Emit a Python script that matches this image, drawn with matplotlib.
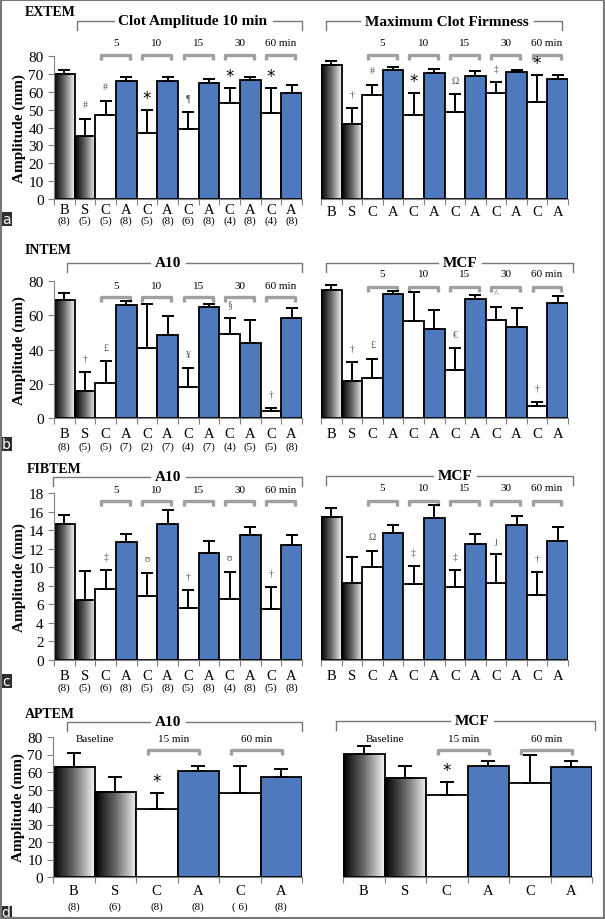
import numpy as np
import matplotlib
matplotlib.use('Agg')
import matplotlib.pyplot as plt
from matplotlib.colors import LinearSegmentedColormap
from matplotlib.transforms import blended_transform_factory
from matplotlib.patches import Rectangle

plt.rcParams['font.family'] = ['Liberation Serif', 'DejaVu Serif']

W, H = 605, 920

# ---- data ----
groups = ['B', 'S', 'C', 'A', 'C', 'A', 'C', 'A', 'C', 'A', 'C', 'A']
groups_d = ['B', 'S', 'C', 'A', 'C', 'A']
times = ['5', '10', '15', '30', '60 min']

# EXTEM
extem_a10 = [70, 35, 47, 65.8, 37, 66, 39, 64.8, 53.8, 66.5, 48, 59.5]
extem_a10_err = [72, 45, 55, 68, 50, 68.5, 48.5, 67, 62, 68, 62, 63.5]
extem_n = ['(8)', '(5)', '(5)', '(8)', '(5)', '(8)', '(6)', '(8)', '(4)', '(8)', '(4)', '(8)']
extem_a10_sig = ['', '#', '#', '', '*', '', '¶', '', '*', '', '*', '']
extem_mcf = [75, 42, 58, 72, 47, 70.5, 48.5, 69, 59.5, 71, 54.5, 67]
extem_mcf_err = [77, 51, 64, 73.7, 59.5, 72.5, 58.5, 71.4, 65.3, 72.3, 69.5, 69.5]
extem_mcf_sig = ['', '†', '#', '', '*', '', 'Ω', '', '‡', '', '*', '']

# INTEM
intem_a10 = [69, 16, 20.5, 66, 41, 48.5, 18, 65, 49, 43.7, 4, 58.2]
intem_a10_err = [73, 27, 33, 68.5, 66.7, 59.8, 29, 66.7, 58.6, 57.3, 5.6, 64.2]
intem_n = ['(8)', '(5)', '(5)', '(7)', '(2)', '(7)', '(4)', '(7)', '(4)', '(5)', '(5)', '(8)']
intem_a10_sig = ['', '†', '£', '', '', '', '¥', '', '§', '', '†', '']
intem_mcf = [74.5, 21.4, 23.3, 72.2, 56.4, 52, 27.8, 69.6, 57.2, 53, 7, 67]
intem_mcf_err = [77.8, 32.5, 34.6, 74.3, 73.7, 63.2, 40.7, 72, 64.6, 64.4, 9.3, 71.4]
intem_mcf_sig = ['', '†', '£', '', '', '', '€', '', '^', '', '†', '']

# FIBTEM
fibtem_a10 = [14.7, 6.45, 7.7, 12.7, 6.9, 14.7, 5.65, 11.55, 6.55, 13.45, 5.5, 12.4]
fibtem_a10_err = [15.6, 9.6, 9.65, 13.6, 9.4, 16.2, 7.55, 12.85, 9.5, 14.3, 7.85, 13.5]
fibtem_n = ['(8)', '(5)', '(6)', '(8)', '(5)', '(8)', '(5)', '(8)', '(4)', '(8)', '(5)', '(8)']
fibtem_a10_sig = ['', '', '‡', '', 'ʊ', '', '†', '', 'ʊ', '', '†', '']
fibtem_mcf = [15.45, 8.25, 10.05, 13.7, 8.2, 15.3, 7.85, 12.45, 8.35, 14.55, 7.05, 12.8]
fibtem_mcf_err = [16.35, 11.05, 11.8, 14.6, 10.1, 16.7, 9.75, 13.6, 11.4, 15.5, 9.45, 14.35]
fibtem_mcf_sig = ['', '', 'Ω', '', '‡', '', '‡', '', 'ȷ', '', '†', '']

# APTEM
aptem_a10 = [63, 48.8, 39, 60.8, 48, 57]
aptem_a10_err = [71, 57.2, 47.8, 63.3, 63.2, 61.8]
aptem_n = ['(8)', '(6)', '(8)', '(8)', '( 6)', '(8)']
aptem_a10_sig = ['', '', '*', '', '', '']
aptem_mcf = [70.2, 56.8, 46.9, 63.7, 54, 63]
aptem_mcf_err = [74.8, 63.5, 54.4, 66.4, 69.5, 66.2]
aptem_mcf_sig = ['', '', '*', '', '', '']

BLUE = '#4e79bd'
GREY = '#808080'
grad = LinearSegmentedColormap.from_list('bw', ['#000000', '#6a6a6a', '#f4f4f4'])

fig = plt.figure(figsize=(W / 100, H / 100), dpi=100)
over = fig.add_axes([0, 0, 1, 1], zorder=5)
over.set_xlim(0, W)
over.set_ylim(H, 0)
over.axis('off')
renderer = fig.canvas.get_renderer()


def px_axes(x0, x1, ytop, ybot):
    return fig.add_axes([x0 / W, 1 - ybot / H, (x1 - x0) / W, (ybot - ytop) / H])


def draw_bars(ax, vals, errs, sigs, ymax, step, left, cap):
    n = len(vals)
    x = np.arange(n)
    for i in x:
        if i < 2:
            g = np.linspace(0, 1, 80).reshape(1, -1)
            ax.imshow(g, extent=(i - 0.5, i + 0.5, 0, vals[i]), aspect='auto',
                      cmap=grad, vmin=0, vmax=1, zorder=1)
            ax.bar(i, vals[i], 1, facecolor='none', edgecolor='black', lw=1.3, zorder=2)
        else:
            fc = 'white' if i % 2 == 0 else BLUE
            ax.bar(i, vals[i], 1, facecolor=fc, edgecolor='black', lw=1.3, zorder=2)
    up = np.array(errs) - np.array(vals)
    ax.errorbar(x, vals, yerr=[np.zeros(n), up], fmt='none', ecolor='black',
                elinewidth=1.4, capsize=cap, capthick=1.4, zorder=3)
    for i, s in enumerate(sigs):
        if not s:
            continue
        if s == '*':
            ax.annotate(s, (i, errs[i]), xytext=(0, 12), textcoords='offset pixels',
                        ha='center', va='center', fontsize=12, color='black',
                        family=['DejaVu Sans'], annotation_clip=False)
        else:
            ax.annotate(s, (i, errs[i]), xytext=(0, 14), textcoords='offset pixels',
                        ha='center', va='center', fontsize=7, color='#555555',
                        annotation_clip=False)
    ax.set_xlim(-0.5, n - 0.5)
    ax.set_ylim(0, ymax)
    ax.set_xticks(np.arange(n + 1) - 0.5)
    ax.set_xticklabels([])
    ax.tick_params(axis='x', direction='out', length=4, color=GREY)
    for sp in ['top', 'right']:
        ax.spines[sp].set_visible(False)
    ax.spines['bottom'].set_color(GREY)
    ax.patch.set_alpha(0)
    if left:
        ax.set_yticks(np.arange(0, ymax + step / 2, step))
        ax.tick_params(axis='y', direction='out', length=4, color=GREY, labelsize=11)
        ax.spines['left'].set_color(GREY)
        ax.set_ylabel('Amplitude (mm)', fontsize=11, fontweight='bold', labelpad=2)
    else:
        ax.spines['left'].set_visible(False)
        ax.set_yticks([])


def xlabels(ax, names, counts, dy1, dy2):
    for i, nm in enumerate(names):
        ax.annotate(nm, (i, 0), xycoords=('data', 'axes fraction'), xytext=(0, -dy1),
                    textcoords='offset pixels', ha='center', va='center', fontsize=10.5)
        if counts:
            ax.annotate(counts[i], (i, 0), xycoords=('data', 'axes fraction'),
                        xytext=(0, -dy2), textcoords='offset pixels',
                        ha='center', va='center', fontsize=8)


def big_bracket(x0, x1, y, label, tx, fs=11):
    t = over.text(tx, y, label, ha='center', va='center', fontsize=fs, fontweight='bold')
    hw = t.get_window_extent(renderer=renderer).width / 2 + 5
    over.plot([x0, x0, tx - hw], [y + 9, y, y], color='#777777', lw=1)
    over.plot([tx + hw, x1, x1], [y, y, y + 9], color='#777777', lw=1)


def sub_bracket(ax, i, y, ly, label, lo, hi):
    tr = blended_transform_factory(ax.transData, over.transData)
    a, b = i - lo, i + 1 + hi
    ax.plot([a, a, b, b], [y + 5, y, y, y + 5], transform=tr, color='#a0a0a0', lw=2.4,
            clip_on=False, solid_capstyle='butt')
    ax.text((a + b) / 2, ly, label, transform=tr, ha='center', va='center', fontsize=8)


def time_brackets(ax, y, ly):
    for k, t in enumerate(times):
        sub_bracket(ax, 2 + 2 * k, y, ly, t, 0.22, 0.18)


def panel_box(letter, y0, y1):
    over.add_patch(Rectangle((0, y0), 12, y1 - y0, facecolor='#2e2e2e', edgecolor='none'))
    over.text(6, (y0 + y1) / 2, letter, color='white', ha='center', va='center',
              fontsize=10, family=['DejaVu Sans'])


# ---- panel a: EXTEM ----
ax = px_axes(54, 302, 57, 200)
draw_bars(ax, extem_a10, extem_a10_err, extem_a10_sig, 80, 10, True, 4)
xlabels(ax, groups, extem_n, 11, 21)
time_brackets(ax, 56, 43)
ax2 = px_axes(321, 568, 57, 200)
draw_bars(ax2, extem_mcf, extem_mcf_err, extem_mcf_sig, 80, 10, False, 4)
xlabels(ax2, groups, None, 13, 0)
time_brackets(ax2, 56, 43)
over.text(25, 12, 'EXTEM', ha='left', va='center', fontsize=10, fontweight='bold')
big_bracket(77, 302, 22, 'Clot Amplitude 10 min', 193)
big_bracket(326, 562, 22, 'Maximum Clot Firmness', 447)
panel_box('a', 213, 227)

# ---- panel b: INTEM ----
ax = px_axes(54, 302, 282, 419)
draw_bars(ax, intem_a10, intem_a10_err, intem_a10_sig, 80, 20, True, 4)
xlabels(ax, groups, intem_n, 16, 28)
time_brackets(ax, 298, 287)
ax2 = px_axes(321, 568, 282, 419)
draw_bars(ax2, intem_mcf, intem_mcf_err, intem_mcf_sig, 80, 20, False, 4)
xlabels(ax2, groups, None, 16, 0)
time_brackets(ax2, 288, 275)
over.text(25, 251, 'INTEM', ha='left', va='center', fontsize=10, fontweight='bold')
big_bracket(67, 302, 264, 'A10', 168)
big_bracket(326, 573, 264, 'MCF', 460)
panel_box('b', 438, 452)

# ---- panel c: FIBTEM ----
ax = px_axes(54, 302, 494, 661)
draw_bars(ax, fibtem_a10, fibtem_a10_err, fibtem_a10_sig, 18, 2, True, 4)
xlabels(ax, groups, fibtem_n, 16, 27)
time_brackets(ax, 502, 491)
ax2 = px_axes(321, 568, 494, 661)
draw_bars(ax2, fibtem_mcf, fibtem_mcf_err, fibtem_mcf_sig, 18, 2, False, 4)
xlabels(ax2, groups, None, 16, 0)
time_brackets(ax2, 502, 489)
over.text(27, 470, 'FIBTEM', ha='left', va='center', fontsize=10, fontweight='bold')
big_bracket(53, 302, 478, 'A10', 168)
big_bracket(326, 573, 477, 'MCF', 455)
panel_box('c', 675, 689)

# ---- panel d: APTEM ----
ax = px_axes(53, 302, 738, 878)
draw_bars(ax, aptem_a10, aptem_a10_err, aptem_a10_sig, 80, 10, True, 5)
xlabels(ax, groups_d, aptem_n, 14, 29)
ax2 = px_axes(343, 592, 738, 878)
draw_bars(ax2, aptem_mcf, aptem_mcf_err, aptem_mcf_sig, 80, 10, False, 5)
xlabels(ax2, groups_d, None, 14, 0)
for a_ in (ax, ax2):
    tr = blended_transform_factory(a_.transData, over.transData)
    a_.text(0.5, 740, 'Baseline', transform=tr, ha='center', va='center', fontsize=8)
    sub_bracket(a_, 2, 751, 740, '15 min', 0.22, 0.03)
    sub_bracket(a_, 4, 751, 740, '60 min', 0.22, 0.03)
over.text(25, 715, 'APTEM', ha='left', va='center', fontsize=10, fontweight='bold')
big_bracket(67, 302, 723, 'A10', 168)
big_bracket(336, 595, 722, 'MCF', 472)
panel_box('d', 907, 920)

# outer frame
over.add_patch(Rectangle((0.8, 0.8), W - 1.6, H - 1.6, facecolor='none',
                         edgecolor='#777777', lw=1.5))

fig.savefig('out.png', dpi=100)
